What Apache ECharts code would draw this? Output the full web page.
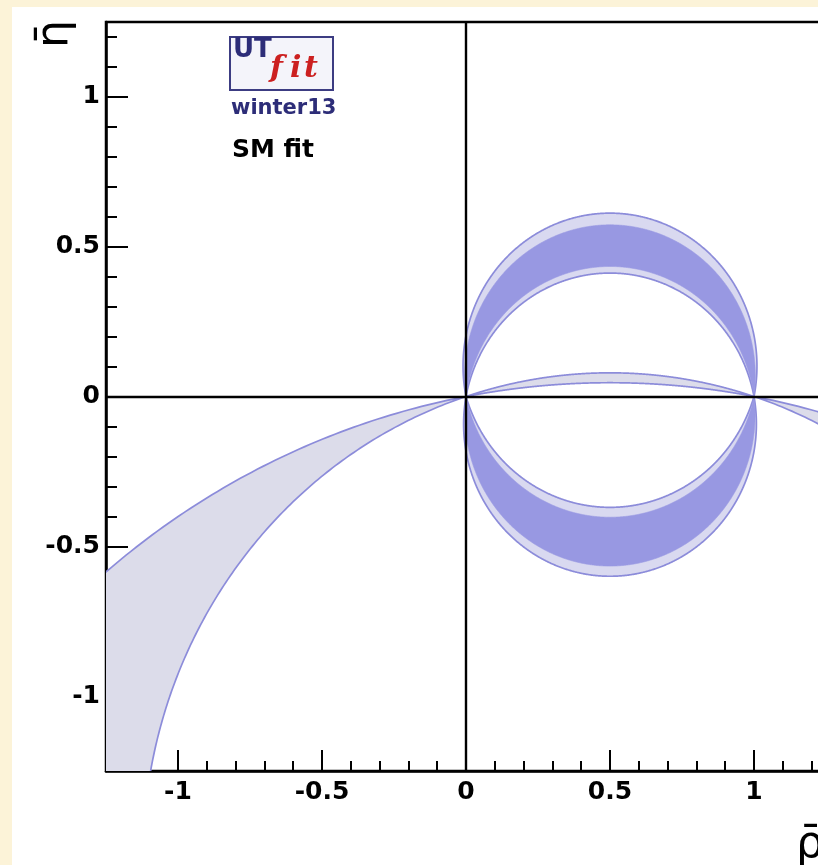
<!DOCTYPE html>
<html>
<head>
<meta charset="utf-8">
<script src="https://cdn.jsdelivr.net/npm/echarts@6/dist/echarts.min.js"></script>
<style>
  html, body { margin: 0; padding: 0; background: #fcf3d8; }
  #chart { width: 818px; height: 865px; }
</style>
</head>
<body>
<div id="chart"></div>
<script>
// Tick positions of the (rho-bar, eta-bar) plane
const xMajorTicks = [-1, -0.5, 0, 0.5, 1];
const xMinorTicks = [-1.2, -1.1, -0.9, -0.8, -0.7, -0.6, -0.4, -0.3, -0.2, -0.1,
                     0.1, 0.2, 0.3, 0.4, 0.6, 0.7, 0.8, 0.9, 1.1, 1.2];
const yMajorTicks = [-1, -0.5, 0, 0.5, 1];
const yMinorTicks = [-1.2, -1.1, -0.9, -0.8, -0.7, -0.6, -0.4, -0.3, -0.2, -0.1,
                     0.1, 0.2, 0.3, 0.4, 0.6, 0.7, 0.8, 0.9, 1.1, 1.2];

// Each constraint edge is a circle through (0,0) and (1,0); it is given by the
// eta-bar value it reaches at rho-bar = 0.5 (its apex).
// alpha constraint, upper solution: [outer edge, inner edge]
const alphaUpperWide = [0.612, 0.412];
const alphaUpperCore = [0.573, 0.434];
// alpha constraint, lower solution: [outer edge, inner edge]
const alphaLowerWide = [-0.600, -0.370];
const alphaLowerCore = [-0.566, -0.403];
// wide band through the origin (apexes of its two edges)
const wideBandApex = [0.046, 0.079];

const C_EDGE = '#8c8cda';
const C_LIGHT = '#d9d9f0';
const C_DARK = '#9898e2';
const C_GREY = '#dcdcea';
const FONT = '"DejaVu Sans", "Liberation Sans", sans-serif';

// circle through (0,0),(1,0) whose extreme eta at rho=0.5 equals apex
function circleFromApex(apex) {
  const k = (apex * apex - 0.25) / (2 * apex);
  return { k: k, r: Math.sqrt(0.25 + k * k) };
}
// points of the arc between (0,0) and (1,0) on the upper (side=1) or lower (side=-1) side
function arc(apex, side, n) {
  const c = circleFromApex(apex);
  const a1 = Math.atan2(-c.k, 0.5);
  const t0 = side > 0 ? a1 : Math.PI - a1;
  const t1 = side > 0 ? Math.PI - a1 : 2 * Math.PI + a1;
  const pts = [];
  for (let i = 0; i <= n; i++) {
    const t = t0 + (t1 - t0) * i / n;
    pts.push([0.5 + c.r * Math.cos(t), c.k + c.r * Math.sin(t)]);
  }
  return pts;
}

// lunes: [apexA, apexB, side, fill, stroke]
const lunes = [
  [wideBandApex[0], wideBandApex[1], 1, C_GREY, C_EDGE],
  [wideBandApex[0], wideBandApex[1], -1, C_GREY, C_EDGE],
  [alphaUpperWide[0], alphaUpperWide[1], 1, C_LIGHT, C_EDGE],
  [alphaLowerWide[0], alphaLowerWide[1], -1, C_LIGHT, C_EDGE],
  [alphaUpperCore[0], alphaUpperCore[1], 1, C_DARK, null],
  [alphaLowerCore[0], alphaLowerCore[1], -1, C_DARK, null]
];

function renderLune(params, api) {
  const d = lunes[params.dataIndex];
  const a = arc(d[0], d[2], 720);
  const b = arc(d[1], d[2], 720).reverse();
  const pts = a.concat(b).map(p => api.coord(p));
  return {
    type: 'polygon',
    shape: { points: pts },
    style: {
      fill: d[3],
      stroke: d[4] || d[3],
      lineWidth: d[4] ? 1.7 : 0.6
    }
  };
}

const chart = echarts.init(document.getElementById('chart'), null, { renderer: 'canvas' });

const tickLine = { color: '#000', width: 2 };
const logoNavy = '#2d2d78';
const logoRed = '#cc2020';
const fitFont = 'bold italic 30px "DejaVu Serif", serif';

chart.setOption({
  backgroundColor: '#fcf3d8',
  animation: false,
  grid: {
    left: 106, top: 22, width: 720, height: 749,
    show: true, borderColor: '#000', borderWidth: 2.5,
    backgroundColor: 'transparent',
    containLabel: false, outerBoundsMode: 'none'
  },
  xAxis: [
    {
      type: 'value', min: -1.25, max: 1.25, position: 'bottom',
      axisLine: { show: true, onZero: false, lineStyle: { color: '#000', width: 2.5 } },
      axisTick: { show: true, inside: true, length: 21, customValues: xMajorTicks, lineStyle: tickLine },
      axisLabel: {
        show: true, customValues: xMajorTicks, margin: 9,
        fontFamily: FONT, fontWeight: 'bold', fontSize: 25, color: '#000'
      },
      splitLine: { show: false }
    },
    {
      type: 'value', min: -1.25, max: 1.25, position: 'bottom',
      axisLine: { show: false, onZero: false },
      axisTick: { show: true, inside: true, length: 10, customValues: xMinorTicks, lineStyle: tickLine },
      axisLabel: { show: false },
      splitLine: { show: false }
    }
  ],
  yAxis: [
    {
      type: 'value', min: -1.25, max: 1.25, position: 'left',
      axisLine: { show: true, onZero: false, lineStyle: { color: '#000', width: 2.5 } },
      axisTick: { show: true, inside: true, length: 22, customValues: yMajorTicks, lineStyle: tickLine },
      axisLabel: {
        show: true, customValues: yMajorTicks, margin: 6,
        fontFamily: FONT, fontWeight: 'bold', fontSize: 25, color: '#000'
      },
      splitLine: { show: false }
    },
    {
      type: 'value', min: -1.25, max: 1.25, position: 'left',
      axisLine: { show: false, onZero: false },
      axisTick: { show: true, inside: true, length: 11, customValues: yMinorTicks, lineStyle: tickLine },
      axisLabel: { show: false },
      splitLine: { show: false }
    }
  ],
  series: [
    {
      type: 'custom',
      xAxisIndex: 0, yAxisIndex: 0,
      clip: true,
      silent: true,
      renderItem: renderLune,
      data: lunes.map((d, i) => [i]),
      z: 2
    },
    {
      type: 'line',
      xAxisIndex: 0, yAxisIndex: 0,
      data: [],
      silent: true,
      z: 5,
      markLine: {
        silent: true, symbol: 'none', animation: false,
        label: { show: false },
        lineStyle: { color: '#000', width: 2.4, type: 'solid' },
        data: [{ xAxis: 0 }, { yAxis: 0 }]
      }
    }
  ],
  graphic: [
    {
      type: 'rect', z: -100, silent: true,
      shape: { x: 12, y: 7, width: 806, height: 858 },
      style: { fill: '#ffffff' }
    },
    {
      type: 'text', silent: true, x: 56, y: 34, rotation: Math.PI / 2,
      style: {
        text: '\u03B7\u0304', font: '44px "DejaVu Sans", sans-serif', fill: '#000',
        align: 'center', verticalAlign: 'middle'
      }
    },
    {
      type: 'text', silent: true, x: 796, y: 824,
      style: {
        text: '\u03C1\u0304', font: '44px "DejaVu Sans", sans-serif', fill: '#000',
        align: 'left', verticalAlign: 'top'
      }
    },
    {
      type: 'rect', silent: true,
      shape: { x: 230, y: 37, width: 103, height: 53 },
      style: { fill: '#f4f4fa', stroke: '#3c3c82', lineWidth: 2 }
    },
    {
      type: 'text', silent: true, x: 233, y: 37,
      style: {
        text: 'UT', font: 'bold 26px ' + FONT, fill: logoNavy,
        align: 'left', verticalAlign: 'top'
      }
    },
    {
      type: 'text', silent: true, x: 270, y: 54,
      style: { text: 'f', font: fitFont, fill: logoRed, align: 'left', verticalAlign: 'top' }
    },
    {
      type: 'text', silent: true, x: 290, y: 54,
      style: { text: 'i', font: fitFont, fill: logoRed, align: 'left', verticalAlign: 'top' }
    },
    {
      type: 'text', silent: true, x: 304, y: 54,
      style: { text: 't', font: fitFont, fill: logoRed, align: 'left', verticalAlign: 'top' }
    },
    {
      type: 'text', silent: true, x: 231, y: 98,
      style: {
        text: 'winter13', font: 'bold 21px ' + FONT, fill: logoNavy,
        align: 'left', verticalAlign: 'top'
      }
    },
    {
      type: 'text', silent: true, x: 232, y: 138,
      style: {
        text: 'SM fit', font: 'bold 25px ' + FONT, fill: '#000',
        align: 'left', verticalAlign: 'top'
      }
    }
  ]
});
</script>
</body>
</html>
